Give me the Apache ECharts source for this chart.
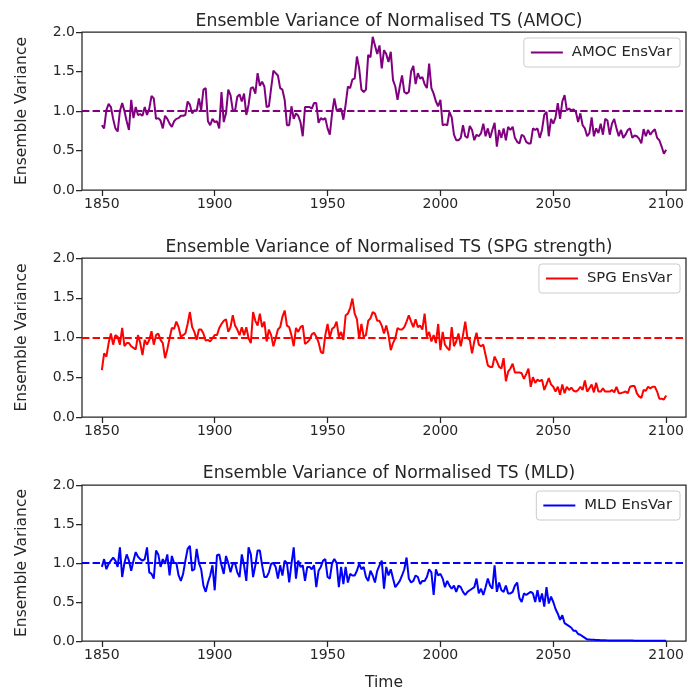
<!DOCTYPE html>
<html><head><meta charset="utf-8">
<script src="https://cdn.jsdelivr.net/npm/echarts@6/dist/echarts.min.js"></script>
<style>html,body{margin:0;padding:0;background:#fff}#c{width:689px;height:692px}</style>
</head><body><div id="c"></div>
<script>
const startYear = 1850;
const xTicks = [1850, 1900, 1950, 2000, 2050, 2100];
const titles = ['Ensemble Variance of Normalised TS (AMOC)', 'Ensemble Variance of Normalised TS (SPG strength)', 'Ensemble Variance of Normalised TS (MLD)'];
const seriesNames = ['AMOC EnsVar', 'SPG EnsVar', 'MLD EnsVar'];

const amoc = [
0.82,0.78,1.01,1.09,1.05,0.90,0.78,0.74,1.00,1.10,
1.00,0.87,0.76,1.14,0.91,1.05,0.95,0.96,0.94,1.05,
0.95,1.03,1.19,1.16,0.90,0.91,0.88,0.78,0.94,0.90,
0.84,0.80,0.87,0.90,0.91,0.94,0.94,0.95,1.12,1.08,
0.97,1.01,1.00,1.16,1.01,1.27,1.29,0.87,0.82,0.90,
0.86,0.87,0.78,1.24,0.86,0.97,1.27,1.20,1.01,1.00,
1.18,1.21,1.12,1.22,0.95,1.08,1.29,1.30,1.22,1.48,
1.32,1.37,1.31,1.05,1.06,1.29,1.51,1.48,1.45,1.29,
1.27,1.14,0.82,0.82,1.06,0.90,0.97,0.94,0.86,0.68,
1.05,1.05,1.05,1.03,1.10,1.10,0.85,0.91,0.89,0.91,
0.78,0.70,0.97,1.16,1.01,1.02,1.03,0.89,1.08,1.31,
1.29,1.40,1.41,1.69,1.54,1.27,1.24,1.27,1.71,1.68,
1.94,1.83,1.72,1.83,1.54,1.77,1.72,1.62,1.75,1.39,
1.31,1.14,1.31,1.45,1.24,1.22,1.24,1.50,1.57,1.34,
1.48,1.41,1.43,1.34,1.29,1.60,1.29,1.22,1.12,1.06,
1.14,0.82,0.83,0.82,0.99,0.92,0.70,0.63,0.63,0.66,
0.82,0.68,0.66,0.81,0.76,0.63,0.70,0.68,0.72,0.84,
0.68,0.78,0.66,0.76,0.85,0.55,0.76,0.66,0.78,0.63,
0.80,0.76,0.80,0.66,0.61,0.59,0.70,0.68,0.61,0.59,
0.59,0.78,0.76,0.78,0.66,0.76,0.95,0.99,0.68,0.90,
0.84,0.92,1.10,0.90,1.12,1.20,1.01,1.03,1.01,1.02,
0.99,0.86,0.97,0.82,0.78,0.68,0.72,0.92,0.68,0.78,
0.72,0.84,0.70,0.90,0.88,0.70,0.84,0.90,0.78,0.68,
0.76,0.66,0.70,0.76,0.78,0.66,0.69,0.68,0.65,0.59,
0.77,0.68,0.76,0.70,0.74,0.77,0.66,0.63,0.55,0.46,
0.51];

const spg = [
0.59,0.80,0.76,0.93,1.05,0.91,1.03,1.01,0.91,1.12,
0.89,0.93,0.93,0.89,0.87,0.85,1.03,0.93,0.78,0.97,
0.91,0.97,1.08,0.91,1.03,1.05,0.97,0.93,0.74,0.85,
0.99,1.12,1.11,1.20,1.13,1.01,1.03,1.05,1.17,1.32,
1.13,1.07,0.97,1.10,1.10,1.05,0.96,0.97,0.95,0.99,
1.03,1.03,1.12,1.17,1.21,1.23,1.07,1.13,1.28,1.15,
1.10,1.03,1.13,1.03,1.13,0.99,0.93,1.32,1.21,1.15,
1.30,1.13,1.20,0.95,1.10,1.03,0.89,0.99,1.10,1.13,
1.26,1.34,1.15,1.13,1.03,0.89,1.12,1.07,1.13,1.15,
0.92,0.94,0.97,1.04,1.06,1.01,0.94,0.82,0.80,1.03,
1.17,1.00,1.11,1.13,1.20,1.01,1.07,0.97,1.28,1.30,
1.37,1.49,1.30,1.23,0.99,1.17,1.01,1.03,1.21,1.24,
1.32,1.30,1.21,1.21,1.15,1.05,1.15,1.03,0.84,0.93,
0.99,1.12,1.10,1.10,1.13,1.20,1.28,1.20,1.13,1.23,
1.13,1.15,1.10,1.30,1.01,1.07,0.95,1.03,0.93,1.17,
0.84,1.07,0.91,0.87,0.84,1.13,0.89,0.95,1.05,0.89,
1.03,1.20,0.99,0.97,0.80,0.95,1.06,0.91,0.89,0.91,
0.78,0.65,0.63,0.63,0.76,0.70,0.63,0.61,0.74,0.45,
0.57,0.61,0.67,0.56,0.56,0.56,0.55,0.48,0.54,0.61,
0.38,0.50,0.43,0.47,0.45,0.47,0.34,0.41,0.49,0.41,
0.38,0.32,0.38,0.28,0.41,0.30,0.38,0.34,0.37,0.33,
0.32,0.34,0.38,0.34,0.46,0.32,0.36,0.41,0.31,0.43,
0.32,0.32,0.36,0.32,0.32,0.32,0.34,0.31,0.38,0.30,
0.30,0.31,0.32,0.30,0.38,0.39,0.39,0.30,0.26,0.24,
0.34,0.33,0.38,0.36,0.38,0.38,0.32,0.23,0.23,0.22,
0.27];

const mld = [
0.95,1.05,0.92,0.99,1.03,1.07,1.03,0.95,1.20,0.82,
1.00,1.11,1.03,0.90,1.03,1.14,1.08,1.05,1.03,1.05,
1.20,0.88,0.86,0.80,1.16,1.11,0.95,1.05,0.99,1.11,
0.84,1.09,1.00,1.00,0.84,0.77,0.86,1.03,1.18,1.22,
0.90,0.92,1.18,1.00,0.92,0.71,0.63,0.75,0.84,0.97,
0.65,1.10,1.11,0.97,0.86,1.09,1.00,0.88,0.99,1.00,
0.88,0.82,1.11,0.97,0.77,1.20,1.11,0.82,0.97,1.16,
1.16,0.97,0.82,0.82,0.88,0.99,1.00,0.95,0.80,0.97,
0.84,1.03,1.00,0.75,0.99,1.20,0.80,1.03,0.95,0.97,
0.77,0.95,0.95,0.92,0.97,0.69,0.90,0.95,1.03,1.05,
0.82,0.80,1.00,1.05,1.00,0.69,0.95,0.73,0.95,0.75,
0.86,0.84,0.84,0.90,0.99,0.92,0.95,0.82,0.77,0.90,
0.84,0.75,0.90,0.97,1.03,0.67,0.95,0.84,0.92,0.80,
0.69,0.73,0.77,0.84,0.92,1.07,0.80,0.75,0.77,0.84,
0.82,0.73,0.77,0.77,0.82,0.92,0.88,0.59,0.92,0.84,
0.86,0.80,0.69,0.77,0.71,0.67,0.71,0.63,0.71,0.69,
0.63,0.59,0.63,0.65,0.67,0.69,0.80,0.61,0.67,0.59,
0.69,0.80,0.71,0.67,0.97,0.63,0.75,0.65,0.63,0.71,
0.61,0.61,0.63,0.71,0.75,0.55,0.50,0.61,0.59,0.61,
0.63,0.61,0.50,0.65,0.50,0.61,0.44,0.69,0.48,0.57,
0.50,0.41,0.35,0.27,0.33,0.23,0.21,0.19,0.17,0.13,
0.13,0.09,0.08,0.06,0.04,0.02,0.02,0.015,0.015,0.012,
0.012,0.01,0.01,0.01,0.008,0.008,0.008,0.007,0.007,0.006,
0.006,0.006,0.005,0.005,0.005,0.005,0.004,0.004,0.004,0.004,
0.003,0.003,0.003,0.003,0.003,0.002,0.002,0.002,0.002,0.002,
0.002];

const allValues = [amoc, spg, mld];
const colors = ['#800080', '#ff0000', '#0000ff'];
const ink = '#262626';
const font = 'DejaVu Sans';
const gridTops = [32, 258, 485];
const gridHeights = [158, 159, 158];
const titleTops = [8, 234, 460];

const grid = [], xAxis = [], yAxis = [], series = [], legend = [], title = [];
for (let i = 0; i < 3; i++) {
  grid.push({left: 82, top: gridTops[i], width: 604, height: gridHeights[i], show: true,
    borderColor: ink, borderWidth: 1.25, backgroundColor: '#fff'});
  title.push({text: titles[i], left: 384, top: titleTops[i], textAlign: 'center',
    textStyle: {fontFamily: font, fontSize: 17.2, fontWeight: 'normal', color: ink}});
  xAxis.push({type: 'value', gridIndex: i, min: 1841.2, max: 2108.8,
    name: i === 2 ? 'Time' : '', nameLocation: 'middle', nameGap: 34,
    nameTextStyle: {fontFamily: font, fontSize: 15.5, color: ink},
    axisLine: {show: false},
    axisTick: {show: true, length: 6, customValues: xTicks, lineStyle: {color: ink, width: 1.25}},
    axisLabel: {customValues: xTicks, fontFamily: font, fontSize: 14, color: ink, margin: 7, formatter: v => String(v)},
    splitLine: {show: false}});
  yAxis.push({type: 'value', gridIndex: i, min: 0, max: 2, interval: 0.5,
    name: 'Ensemble Variance', nameLocation: 'middle', nameGap: 52,
    nameTextStyle: {fontFamily: font, fontSize: 15.5, color: ink},
    axisLine: {show: false},
    axisTick: {show: true, length: 6, lineStyle: {color: ink, width: 1.25}},
    axisLabel: {fontFamily: font, fontSize: 14, color: ink, margin: 7, formatter: v => v.toFixed(1)},
    splitLine: {show: false}});
  const vals = allValues[i];
  series.push({type: 'line', name: seriesNames[i], xAxisIndex: i, yAxisIndex: i,
    data: vals.map((v, k) => [startYear + k, v]),
    showSymbol: false, symbol: 'none', lineStyle: {color: colors[i], width: 2}, itemStyle: {color: colors[i]},
    markLine: {silent: true, symbol: ['none', 'none'], label: {show: false},
      lineStyle: {color: colors[i], width: 2, type: [7.4, 3.2]}, data: [{yAxis: 1}], animation: false}});
  legend.push({data: [seriesNames[i]], right: 9, top: gridTops[i] + 6, icon: 'rect', itemWidth: 32, itemHeight: 2,
    padding: [7, 8, 7, 7], borderColor: '#cccccc', borderWidth: 1, borderRadius: 3, backgroundColor: '#fff',
    textStyle: {fontFamily: font, fontSize: 14.8, color: ink, padding: [0, 0, 0, 4]}});
}

const chart = echarts.init(document.getElementById('c'), null, {renderer: 'canvas'});
chart.setOption({backgroundColor: '#fff', animation: false, title, grid, xAxis, yAxis, series, legend});
</script></body></html>
